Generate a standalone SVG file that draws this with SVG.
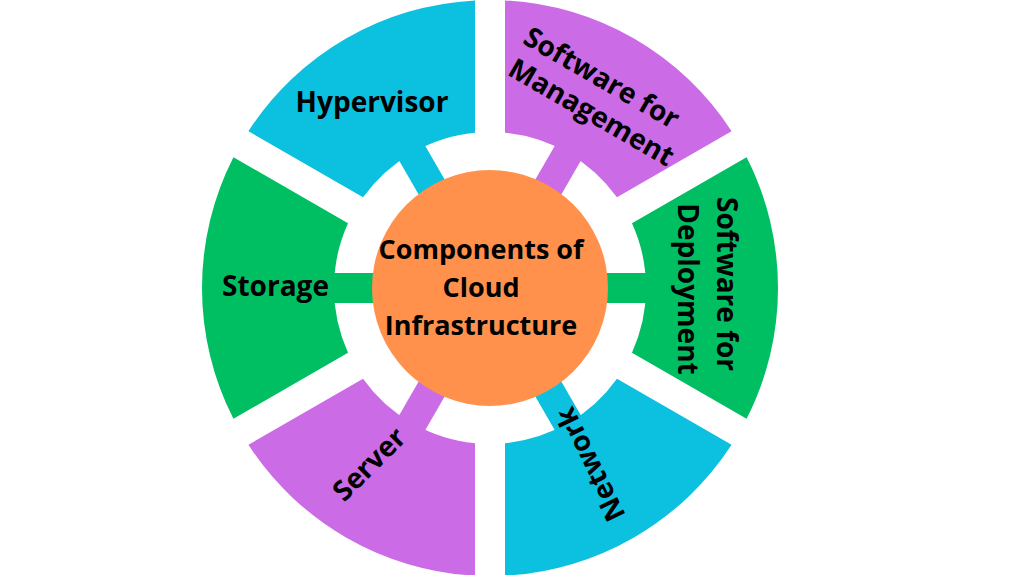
<svg xmlns="http://www.w3.org/2000/svg" width="1024" height="575" viewBox="0 0 1024 575">
<style>
.blue{fill:#0CC0DF}
.purple{fill:#CB6CE6}
.green{fill:#00BF63}
.orange{fill:#FF914D}
.lbl{font-family:"Open Sans","Noto Sans","Liberation Sans",sans-serif;font-weight:700;font-size:28px;fill:#000;text-anchor:middle}
.ctr{font-size:27px}
</style>
<rect width="1024" height="575" fill="#FFFFFF"/>
<g id="connectors">
  <rect class="blue" x="0" y="-15" width="162" height="30" transform="translate(490,288) rotate(-120)"/>
  <rect class="purple" x="0" y="-15" width="162" height="30" transform="translate(490,288) rotate(-60)"/>
  <rect class="green" x="0" y="-15" width="162" height="30" transform="translate(490,288) rotate(0)"/>
  <rect class="blue" x="0" y="-15" width="162" height="30" transform="translate(490,288) rotate(60)"/>
  <rect class="purple" x="0" y="-15" width="162" height="30" transform="translate(490,288) rotate(120)"/>
  <rect class="green" x="0" y="-15" width="162" height="30" transform="translate(490,288) rotate(180)"/>
</g>
<g id="hypervisor">
  <path class="blue" d="M248.423,131.205 A288,288 0 0 1 475,0.391 L475,132.723 A156,156 0 0 0 363.026,197.371 Z"/>
  <text class="lbl" x="372" y="112">Hypervisor</text>
</g>
<g id="software-management">
  <path class="purple" d="M505,0.391 A288,288 0 0 1 731.577,131.205 L616.974,197.371 A156,156 0 0 0 505,132.723 Z"/>
  <text class="lbl" transform="translate(592,103.5) rotate(30)"><tspan x="-4.5" y="-17.4">Software for</tspan><tspan x="4" y="17.5">Management</tspan></text>
</g>
<g id="software-deployment">
  <path class="green" d="M746.577,157.185 A288,288 0 0 1 746.577,418.815 L631.974,352.649 A156,156 0 0 0 631.974,223.351 Z"/>
  <text class="lbl" transform="translate(717,284) rotate(90)">Software for</text>
  <text class="lbl" transform="translate(678,289) rotate(90)">Deployment</text>
</g>
<g id="network">
  <path class="blue" d="M731.577,444.795 A288,288 0 0 1 505,575.609 L505,443.277 A156,156 0 0 0 616.974,378.629 Z"/>
  <text class="lbl" transform="translate(599,460) rotate(-116)">Network</text>
</g>
<g id="server">
  <path class="purple" d="M475,575.609 A288,288 0 0 1 248.423,444.795 L363.026,378.629 A156,156 0 0 0 475,443.277 Z"/>
  <text class="lbl" transform="translate(376,471) rotate(-45)">Server</text>
</g>
<g id="storage">
  <path class="green" d="M233.423,418.815 A288,288 0 0 1 233.423,157.185 L348.026,223.351 A156,156 0 0 0 348.026,352.649 Z"/>
  <text class="lbl" x="275.5" y="296">Storage</text>
</g>
<g id="center">
  <circle class="orange" cx="490" cy="288" r="118"/>
  <text class="lbl ctr" x="481" y="259">Components of</text>
  <text class="lbl ctr" x="481" y="297">Cloud</text>
  <text class="lbl ctr" x="481" y="335">Infrastructure</text>
</g>
</svg>
